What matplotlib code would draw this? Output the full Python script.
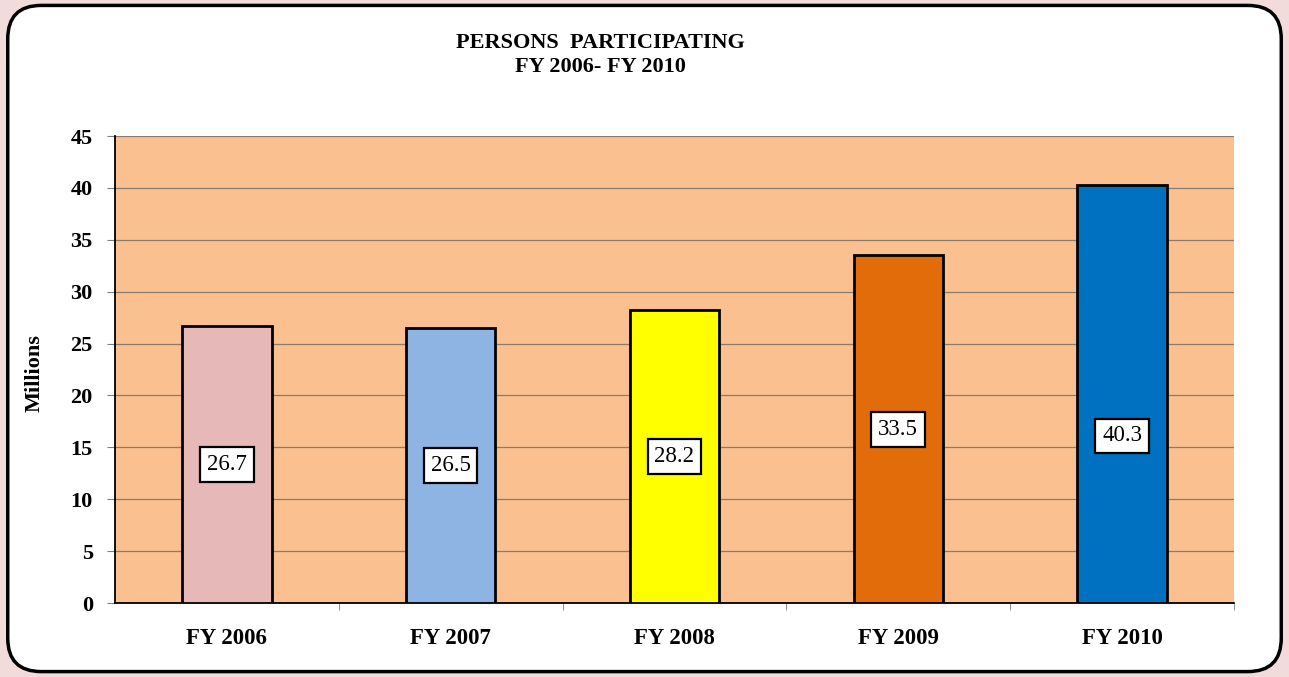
"""
Persons participating, FY 2006 - FY 2010 (bar chart with value boxes).
"""
import matplotlib.pyplot as plt
from matplotlib.patches import FancyBboxPatch

categories = ['FY 2006', 'FY 2007', 'FY 2008', 'FY 2009', 'FY 2010']
values = [26.7, 26.5, 28.2, 33.5, 40.3]
# heights (in millions) where the value boxes sit
label_heights = [13.35, 13.25, 14.1, 16.75, 16.1]
bar_colors = ['#E6B8B7', '#8EB4E3', '#FFFF00', '#E36C0A', '#0070C0']
y_ticks = [0, 5, 10, 15, 20, 25, 30, 35, 40, 45]

plt.rcParams['font.family'] = ['Liberation Serif', 'DejaVu Serif']

fig = plt.figure(figsize=(12.89, 6.77), dpi=100)
fig.patch.set_facecolor('#F2DCDB')

frame = FancyBboxPatch((0.006, 0.008), 0.988, 0.984,
                       boxstyle='round,pad=0,rounding_size=0.026',
                       transform=fig.transFigure, facecolor='white',
                       edgecolor='black', linewidth=2.5, zorder=-5,
                       mutation_aspect=1289 / 677)
fig.patches.append(frame)

ax = fig.add_axes([0.0892, 0.1093, 0.8681, 0.6898])
ax.set_facecolor('#FAC090')

x = range(len(categories))
bars = ax.bar(x, values, width=0.4, color=bar_colors, edgecolor='black',
              linewidth=2.0, zorder=3)

for bar, v, h in zip(bars, values, label_heights):
    ax.text(bar.get_x() + bar.get_width() / 2, h, f'{v:.1f}',
            ha='center', va='center', fontsize=16.5, zorder=4,
            bbox=dict(boxstyle='square,pad=0.3', facecolor='white',
                      edgecolor='black', linewidth=1.6))

ax.set_xlim(-0.5, len(categories) - 0.5)
ax.set_ylim(0, 45)
ax.set_yticks(y_ticks)
ax.set_yticklabels([str(t) for t in y_ticks], fontsize=16, fontweight='bold')
ax.yaxis.grid(True, color='#8C7A6B', linewidth=0.9, zorder=1)
ax.set_axisbelow(True)

ax.set_xticks(list(x))
ax.set_xticklabels(categories, fontsize=16.5, fontweight='bold')
ax.tick_params(axis='x', length=0, pad=18)
ax.set_xticks([i + 0.5 for i in range(len(categories))], minor=True)
ax.tick_params(axis='x', which='minor', length=5, color='#808080')
ax.tick_params(axis='y', length=6, color='#808080', pad=10)

for side in ['top', 'right']:
    ax.spines[side].set_visible(False)
ax.spines['left'].set_linewidth(1.3)
ax.spines['bottom'].set_linewidth(1.3)

ax.set_ylabel('Millions', fontsize=16, fontweight='bold')
ax.yaxis.set_label_coords(-0.0626, 0.4925)

fig.text(0.466, 0.936, 'PERSONS  PARTICIPATING', ha='center', va='center',
         fontsize=16, fontweight='bold')
fig.text(0.466, 0.901, 'FY 2006- FY 2010', ha='center', va='center',
         fontsize=16, fontweight='bold')

fig.savefig('out.png', dpi=100, facecolor=fig.get_facecolor())
